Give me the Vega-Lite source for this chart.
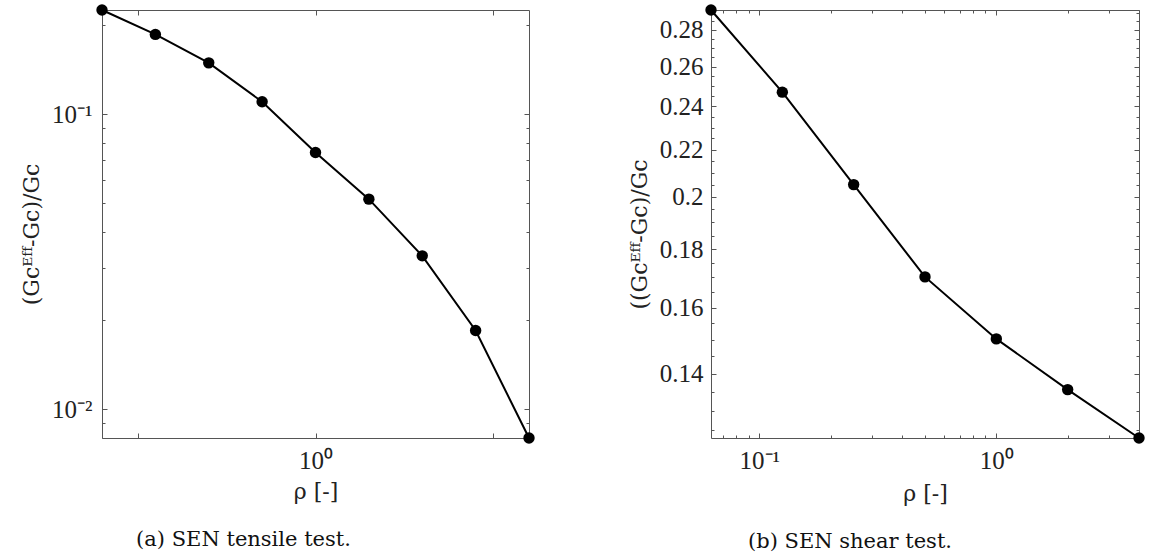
{
  "$schema": "https://vega.github.io/schema/vega-lite/v6.json",
  "background": "white",
  "padding": {"left": 20, "top": 0, "right": 5, "bottom": 2},
  "spacing": 93,
  "config": {
    "view": {"stroke": null},
    "axis": {
      "grid": false,
      "domainColor": "#555555",
      "domainWidth": 1,
      "tickColor": "#555555",
      "tickWidth": 1,
      "labelColor": "#222222",
      "titleColor": "#222222",
      "labelFont": "Liberation Serif",
      "labelFontSize": 25,
      "titleFont": "DejaVu Serif",
      "titleFontSize": 22,
      "titleFontWeight": "normal",
      "labelOverlap": false,
      "labelFlush": false,
      "labelBound": false
    },
    "title": {"font": "DejaVu Serif", "fontSize": 21, "fontWeight": "normal", "color": "#111111"}
  },
  "hconcat": [
    {
      "width": 427,
      "height": 428,
      "title": {"text": "(a) SEN tensile test.", "orient": "bottom", "anchor": "middle", "frame": "group", "dx": -72, "offset": 27},
      "data": {"values": [
        {"rho": 0.0625, "g": 0.225},
        {"rho": 0.125, "g": 0.186},
        {"rho": 0.25, "g": 0.149},
        {"rho": 0.5, "g": 0.110},
        {"rho": 1, "g": 0.0741},
        {"rho": 2, "g": 0.0515},
        {"rho": 4, "g": 0.0331},
        {"rho": 8, "g": 0.0185},
        {"rho": 16, "g": 0.008}
      ]},
      "layer": [
        {
          "mark": {"type": "line", "color": "black", "strokeWidth": 2},
          "encoding": {
            "x": {"field": "rho", "type": "quantitative",
              "scale": {"type": "log", "domain": [0.0625, 16], "nice": false},
              "axis": {"orient": "bottom", "title": "ρ [-]", "values": [0.1, 1, 10],
                "tickSize": -5, "labelPadding": 15, "titlePadding": 8,
                "labelExpr": "datum.value == 1 ? '10⁰' : ''"}},
            "y": {"field": "g", "type": "quantitative",
              "scale": {"type": "log", "domain": [0.008, 0.225], "nice": false},
              "axis": {"orient": "left", "title": "(Gcᴱᶠᶠ-Gc)/Gc", "titleY": 224,
                "values": [0.008, 0.009, 0.01, 0.02, 0.03, 0.04, 0.05, 0.06, 0.07, 0.08, 0.09, 0.1, 0.2],
                "tickSize": {"condition": {"test": "datum.value == 0.1 || datum.value == 0.01", "value": -5}, "value": -3},
                "labelPadding": 15, "titlePadding": 8,
                "labelExpr": "datum.value == 0.1 ? '10⁻¹' : datum.value == 0.01 ? '10⁻²' : ''"}}
          }
        },
        {
          "mark": {"type": "point", "filled": true, "color": "black", "size": 130, "opacity": 1},
          "encoding": {
            "x": {"field": "rho", "type": "quantitative",
              "scale": {"type": "log", "domain": [0.0625, 16], "nice": false},
              "axis": {"orient": "top", "title": null, "labels": false, "values": [0.1, 1, 10], "tickSize": -5}},
            "y": {"field": "g", "type": "quantitative",
              "scale": {"type": "log", "domain": [0.008, 0.225], "nice": false},
              "axis": {"orient": "right", "title": null, "labels": false,
                "values": [0.008, 0.009, 0.01, 0.02, 0.03, 0.04, 0.05, 0.06, 0.07, 0.08, 0.09, 0.1, 0.2],
                "tickSize": {"condition": {"test": "datum.value == 0.1 || datum.value == 0.01", "value": -5}, "value": -3}}}
          }
        }
      ],
      "resolve": {"axis": {"x": "independent", "y": "independent"}}
    },
    {
      "width": 428,
      "height": 428,
      "title": {"text": "(b) SEN shear test.", "orient": "bottom", "anchor": "middle", "frame": "group", "dx": -75, "offset": 27},
      "data": {"values": [
        {"rho": 0.0625, "g": 0.2915},
        {"rho": 0.125, "g": 0.247},
        {"rho": 0.25, "g": 0.205},
        {"rho": 0.5, "g": 0.1702},
        {"rho": 1, "g": 0.1502},
        {"rho": 2, "g": 0.1356},
        {"rho": 4, "g": 0.123}
      ]},
      "layer": [
        {
          "mark": {"type": "line", "color": "black", "strokeWidth": 2},
          "encoding": {
            "x": {"field": "rho", "type": "quantitative",
              "scale": {"type": "log", "domain": [0.0625, 4], "nice": false},
              "axis": {"orient": "bottom", "title": "ρ [-]",
                "values": [0.07, 0.08, 0.09, 0.1, 0.2, 0.3, 0.4, 0.5, 0.6, 0.7, 0.8, 0.9, 1, 2, 3, 4],
                "tickSize": {"condition": {"test": "datum.value == 0.1 || datum.value == 1", "value": -5}, "value": -3},
                "labelPadding": 15, "titlePadding": 8,
                "labelExpr": "datum.value == 0.1 ? '10⁻¹' : datum.value == 1 ? '10⁰' : ''"}},
            "y": {"field": "g", "type": "quantitative",
              "scale": {"type": "log", "domain": [0.123, 0.2915], "nice": false},
              "axis": {"orient": "left", "title": "((Gcᴱᶠᶠ-Gc)/Gc", "titleY": 224,
                "values": [0.125, 0.13, 0.135, 0.14, 0.145, 0.15, 0.155, 0.16, 0.165, 0.17, 0.175, 0.18, 0.185, 0.19, 0.195, 0.2, 0.205, 0.21, 0.215, 0.22, 0.225, 0.23, 0.235, 0.24, 0.245, 0.25, 0.255, 0.26, 0.265, 0.27, 0.275, 0.28, 0.285, 0.29],
                "tickSize": {"condition": {"test": "abs(datum.value*50 - round(datum.value*50)) < 1e-6", "value": -5}, "value": -3},
                "labelPadding": 13, "titlePadding": 8,
                "labelExpr": "abs(datum.value*50 - round(datum.value*50)) < 1e-6 ? format(datum.value, '.2~f') : ''"}}
          }
        },
        {
          "mark": {"type": "point", "filled": true, "color": "black", "size": 130, "opacity": 1},
          "encoding": {
            "x": {"field": "rho", "type": "quantitative",
              "scale": {"type": "log", "domain": [0.0625, 4], "nice": false},
              "axis": {"orient": "top", "title": null, "labels": false,
                "values": [0.07, 0.08, 0.09, 0.1, 0.2, 0.3, 0.4, 0.5, 0.6, 0.7, 0.8, 0.9, 1, 2, 3, 4],
                "tickSize": {"condition": {"test": "datum.value == 0.1 || datum.value == 1", "value": -5}, "value": -3}}},
            "y": {"field": "g", "type": "quantitative",
              "scale": {"type": "log", "domain": [0.123, 0.2915], "nice": false},
              "axis": {"orient": "right", "title": null, "labels": false,
                "values": [0.125, 0.13, 0.135, 0.14, 0.145, 0.15, 0.155, 0.16, 0.165, 0.17, 0.175, 0.18, 0.185, 0.19, 0.195, 0.2, 0.205, 0.21, 0.215, 0.22, 0.225, 0.23, 0.235, 0.24, 0.245, 0.25, 0.255, 0.26, 0.265, 0.27, 0.275, 0.28, 0.285, 0.29],
                "tickSize": {"condition": {"test": "abs(datum.value*50 - round(datum.value*50)) < 1e-6", "value": -5}, "value": -3}}}
          }
        }
      ],
      "resolve": {"axis": {"x": "independent", "y": "independent"}}
    }
  ]
}
